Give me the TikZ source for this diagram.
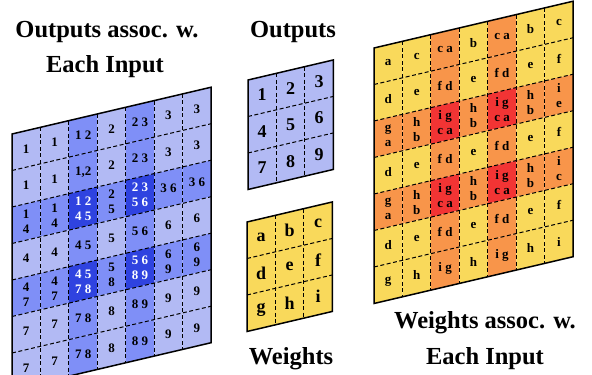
\documentclass[tikz,border=0pt]{standalone}
\usepackage{fontspec}
\setmainfont{Liberation Serif}
\definecolor{lb}{HTML}{B2BAF4}
\definecolor{mb}{HTML}{7F8FF7}
\definecolor{db}{HTML}{2F43E0}
\definecolor{yl}{HTML}{F9D95B}
\definecolor{og}{HTML}{F8954A}
\definecolor{rd}{HTML}{F23434}
\def\cw{28.45}
\def\ch{36.5}
\tikzset{
  cellnum/.style={font=\bfseries\fontsize{13}{15}\selectfont, align=center, inner sep=0pt},
  bignum/.style={font=\bfseries\fontsize{18}{20}\selectfont, inner sep=0pt},
  title/.style={font=\bfseries\fontsize{24.5}{30}\selectfont, anchor=base, inner sep=0pt},
  gridline/.style={dash pattern=on 4pt off 2.5pt, line width=1pt},
  border/.style={line width=1.5pt, line join=miter},
  skew/.style={yslant=0.235},
}
\newcommand\gridrow[3]{%
  \foreach \t [count=\ci from 0] in {#2} {%
    \pgfmathtruncatemacro\k{(\ci==2||\ci==4)+(#1==2||#1==4)}%
    \ifcase\k \edef\fc{\pa}\def\tc{black}\or \edef\fc{\pb}\def\tc{black}\else \edef\fc{\pc}\edef\tc{\pt}\fi
    \fill[fill=\fc] (\ci*\cw,#1*\ch) rectangle ++(\cw,\ch);
    \node[cellnum,text=\tc] (#3-#1-\ci) at (\ci*\cw+0.5*\cw,#1*\ch+0.5*\ch) {\t};
  }}
\newcommand\biglines{%
  \foreach \i in {1,...,6} {
    \draw[gridline] (\i*\cw,0) -- (\i*\cw,7*\ch);
    \draw[gridline] (0,\i*\ch) -- (7*\cw,\i*\ch);
  }
  \draw[border] (0,0) rectangle (7*\cw,7*\ch);}
\begin{document}
\begin{tikzpicture}[x=1pt,y=-1pt]
\useasboundingbox (0,0) rectangle (592,375);

% titles
\node[title] (t1) at (107,37) {Outputs assoc. w.};
\node[title] (t2) at (105,72) {Each Input};
\node[title] (t3) at (293,37) {Outputs};
\node[title] (t4) at (291,364) {Weights};
\node[title] (t5) at (485,328) {Weights assoc. w.};
\node[title] (t6) at (485,364) {Each Input};

% left grid: outputs associated with each input
\begin{scope}[shift={(12,134)},skew]
  \def\pa{lb}\def\pb{mb}\def\pc{db}\def\pt{white}
  \gridrow{0}{1,1,1 2,2,2 3,3,3}{L}
  \gridrow{1}{1,1,{1,2},2,2 3,3,3}{L}
  \gridrow{2}{1\\4,1\\4,1 2\\4 5,2\\5,2 3\\5 6,3 6,3 6}{L}
  \gridrow{3}{4,4,4 5,5,5 6,6,6}{L}
  \gridrow{4}{4\\7,4\\7,4 5\\7 8,5\\8,5 6\\8 9,6\\9,6\\9}{L}
  \gridrow{5}{7,7,7 8,8,8 9,9,9}{L}
  \gridrow{6}{7,7,7 8,8,8 9,9,9}{L}
  \biglines
\end{scope}

% right grid: weights associated with each input
\begin{scope}[shift={(374,48)},skew]
  \def\pa{yl}\def\pb{og}\def\pc{rd}\def\pt{black}
  \gridrow{0}{a,c,c a,b,c a,b,c}{R}
  \gridrow{1}{d,e,f d,e,f d,e,f}{R}
  \gridrow{2}{g\\a,h\\b,i g\\c a,h\\b,i g\\c a,h\\b,i\\e}{R}
  \gridrow{3}{d,e,f d,e,f d,e,f}{R}
  \gridrow{4}{g\\a,h\\b,i g\\c a,h\\b,i g\\c a,h\\b,i\\c}{R}
  \gridrow{5}{d,e,f d,e,f d,e,f}{R}
  \gridrow{6}{g,h,i g,h,i g,h,i}{R}
  \biglines
\end{scope}

% middle: outputs
\begin{scope}[shift={(248,80)},skew]
  \fill[lb] (0,0) rectangle (3*\cw,3*\ch);
  \foreach \t/\c/\r in {1/0/0,2/1/0,3/2/0,4/0/1,5/1/1,6/2/1,7/0/2,8/1/2,9/2/2}
    \node[bignum] (O\t) at (\c*\cw+0.5*\cw,\r*\ch+0.5*\ch) {\t};
  \foreach \i in {1,2} {
    \draw[gridline] (\i*\cw,0) -- (\i*\cw,3*\ch);
    \draw[gridline] (0,\i*\ch) -- (3*\cw,\i*\ch);
  }
  \draw[border] (0,0) rectangle (3*\cw,3*\ch);
\end{scope}

% middle: weights
\begin{scope}[shift={(247,222)},skew]
  \fill[yl] (0,0) rectangle (3*\cw,3*\ch);
  \foreach \t/\c/\r in {a/0/0,b/1/0,c/2/0,d/0/1,e/1/1,f/2/1,g/0/2,h/1/2,i/2/2}
    \node[bignum] (W\t) at (\c*\cw+0.5*\cw,\r*\ch+0.5*\ch) {\t};
  \foreach \i in {1,2} {
    \draw[gridline] (\i*\cw,0) -- (\i*\cw,3*\ch);
    \draw[gridline] (0,\i*\ch) -- (3*\cw,\i*\ch);
  }
  \draw[border] (0,0) rectangle (3*\cw,3*\ch);
\end{scope}
\end{tikzpicture}
\end{document}
